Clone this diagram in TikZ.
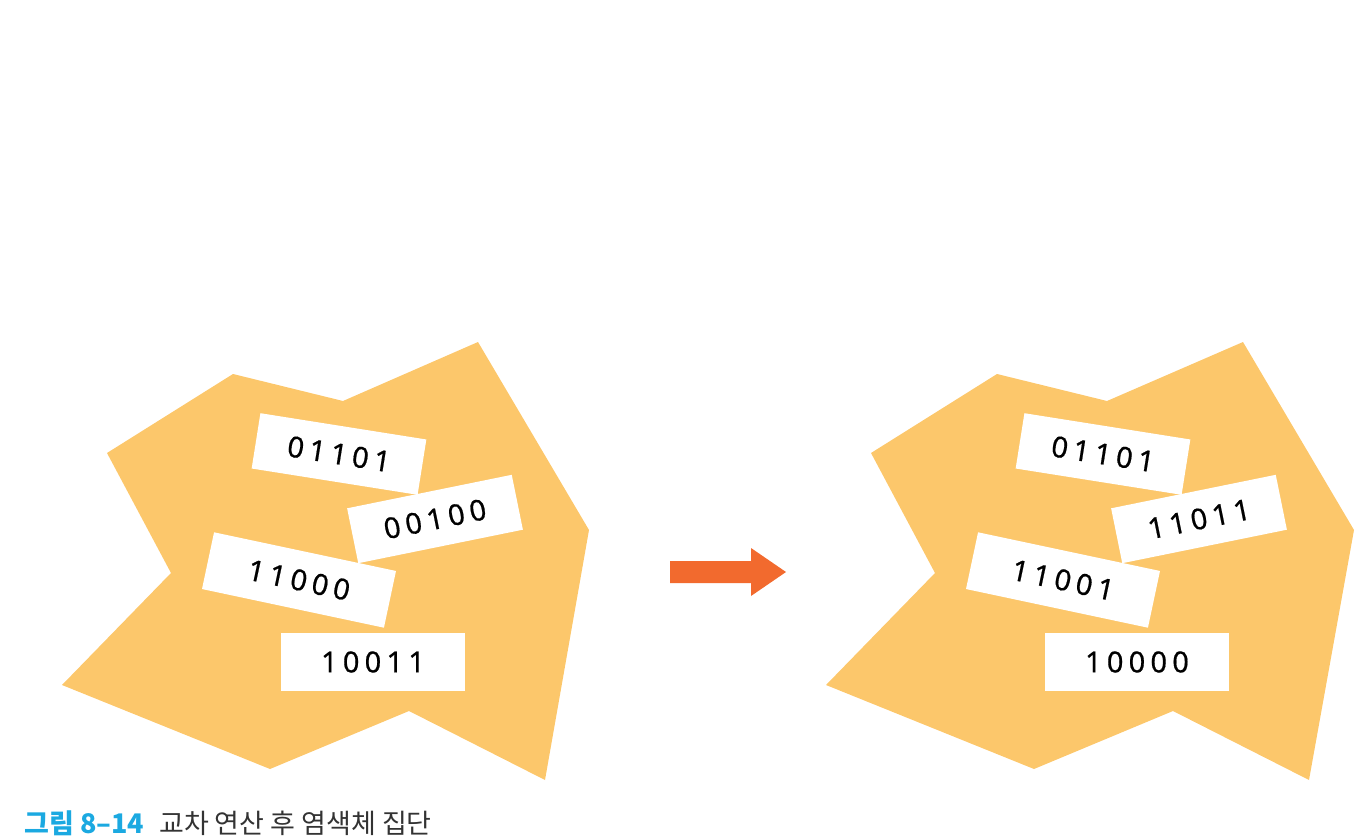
\documentclass[tikz,border=0pt]{standalone}
\usepackage{fontspec}
\newfontfamily\cjk{Noto Sans CJK KR}
\newfontfamily\digitos[LetterSpace=18, FakeBold=0.6]{Noto Sans}
\definecolor{naranjaclaro}{HTML}{FCC76B}
\definecolor{naranja}{HTML}{F26A2E}
\definecolor{azulfig}{HTML}{1BA9E1}
\definecolor{grisfig}{HTML}{333333}
\tikzset{
  cromosoma/.style={fill=white, inner sep=0pt, minimum width=168pt, minimum height=56pt,
    font=\digitos\fontsize{29}{29}\selectfont},
  conjunto/.style={fill=naranjaclaro, draw=none}
}
\begin{document}
\begin{tikzpicture}[x=1pt, y=-1pt]
\useasboundingbox (0,0) rectangle (1358,840);
% Conjunto antes del cruce
\fill[conjunto] (107,453) -- (233,374) -- (343,401) -- (478,342) -- (589,530) -- (545,780)
  -- (409,711) -- (270,769) -- (62,685) -- (171,573) -- cycle;
% Conjunto despues del cruce
\fill[conjunto] (871,453) -- (997,374) -- (1107,401) -- (1243,342) -- (1354,530) -- (1309,780)
  -- (1173,711) -- (1034,769) -- (826,685) -- (935,573) -- cycle;
% Cromosomas (izquierda)
\node[cromosoma, rotate=-9] (a1) at (339,454) {01101};
\node[cromosoma, rotate=11.5] (a2) at (435,519) {00100};
\node[cromosoma, minimum width=186pt, minimum height=58pt, rotate=-12] (a3) at (299,580) {11000};
\node[cromosoma, minimum width=184pt, minimum height=58pt] (a4) at (373,662) {10011};
% Cromosomas (derecha)
\node[cromosoma, rotate=-9] (b1) at (1103,454) {01101};
\node[cromosoma, rotate=11.5] (b2) at (1199,519) {11011};
\node[cromosoma, minimum width=186pt, minimum height=58pt, rotate=-12] (b3) at (1063,580) {11001};
\node[cromosoma, minimum width=184pt, minimum height=58pt] (b4) at (1137,662) {10000};
% Flecha
\fill[naranja] (670,561) -- (751,561) -- (751,548) -- (786,572) -- (751,596) -- (751,583) -- (670,583) -- cycle;
% Pie de figura
\node[anchor=base west, inner sep=0pt, text=azulfig, font=\cjk\bfseries\fontsize{27}{27}\selectfont] (num) at (24,833) {그림 8–14};
\node[anchor=base west, inner sep=0pt, text=grisfig, font=\cjk\fontsize{27}{27}\selectfont] (titulo) at (159,833) {교차 연산 후 염색체 집단};
\end{tikzpicture}
\end{document}
